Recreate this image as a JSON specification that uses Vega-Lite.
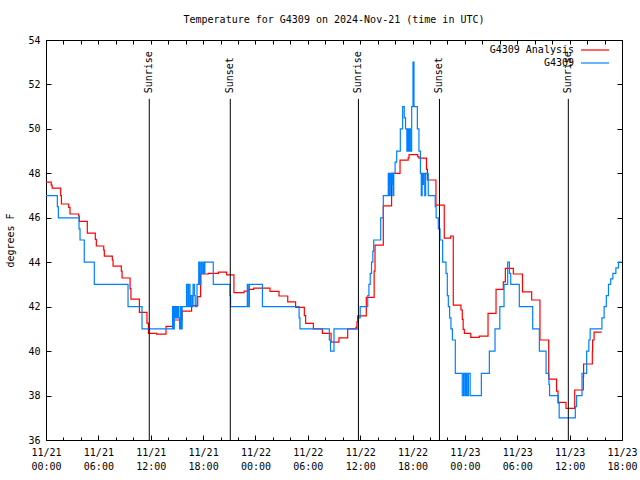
{
  "$schema": "https://vega.github.io/schema/vega-lite/v6.json",
  "autosize": "none",
  "width": 576,
  "height": 400,
  "padding": {"left": 46, "top": 40, "right": 18, "bottom": 40},
  "background": "white",
  "title": {"text": "Temperature for G4309 on 2024-Nov-21 (time in UTC)", "font": "DejaVu Sans Mono", "fontSize": 10, "fontWeight": "normal", "anchor": "middle", "offset": 10, "color": "black"},
  "datasets": {
    "temps": [
      {"series": "G4309 Analysis", "time": "2024-11-21T00:00Z", "temp": 47.6},
      {"series": "G4309 Analysis", "time": "2024-11-21T00:36Z", "temp": 47.47},
      {"series": "G4309 Analysis", "time": "2024-11-21T00:42Z", "temp": 47.33},
      {"series": "G4309 Analysis", "time": "2024-11-21T01:41Z", "temp": 47.0},
      {"series": "G4309 Analysis", "time": "2024-11-21T01:46Z", "temp": 46.62},
      {"series": "G4309 Analysis", "time": "2024-11-21T02:36Z", "temp": 46.47},
      {"series": "G4309 Analysis", "time": "2024-11-21T02:45Z", "temp": 46.17},
      {"series": "G4309 Analysis", "time": "2024-11-21T03:44Z", "temp": 46.08},
      {"series": "G4309 Analysis", "time": "2024-11-21T03:49Z", "temp": 45.84},
      {"series": "G4309 Analysis", "time": "2024-11-21T04:44Z", "temp": 45.31},
      {"series": "G4309 Analysis", "time": "2024-11-21T05:39Z", "temp": 45.03},
      {"series": "G4309 Analysis", "time": "2024-11-21T05:46Z", "temp": 44.73},
      {"series": "G4309 Analysis", "time": "2024-11-21T06:37Z", "temp": 44.54},
      {"series": "G4309 Analysis", "time": "2024-11-21T06:41Z", "temp": 44.27},
      {"series": "G4309 Analysis", "time": "2024-11-21T07:36Z", "temp": 44.1},
      {"series": "G4309 Analysis", "time": "2024-11-21T07:41Z", "temp": 43.82},
      {"series": "G4309 Analysis", "time": "2024-11-21T08:38Z", "temp": 43.6},
      {"series": "G4309 Analysis", "time": "2024-11-21T08:43Z", "temp": 43.29},
      {"series": "G4309 Analysis", "time": "2024-11-21T09:38Z", "temp": 42.81},
      {"series": "G4309 Analysis", "time": "2024-11-21T09:44Z", "temp": 42.34},
      {"series": "G4309 Analysis", "time": "2024-11-21T10:42Z", "temp": 41.74},
      {"series": "G4309 Analysis", "time": "2024-11-21T11:34Z", "temp": 41.26},
      {"series": "G4309 Analysis", "time": "2024-11-21T11:44Z", "temp": 40.8},
      {"series": "G4309 Analysis", "time": "2024-11-21T12:41Z", "temp": 40.76},
      {"series": "G4309 Analysis", "time": "2024-11-21T13:45Z", "temp": 41.11},
      {"series": "G4309 Analysis", "time": "2024-11-21T14:36Z", "temp": 41.4},
      {"series": "G4309 Analysis", "time": "2024-11-21T15:36Z", "temp": 41.8},
      {"series": "G4309 Analysis", "time": "2024-11-21T16:41Z", "temp": 42.05},
      {"series": "G4309 Analysis", "time": "2024-11-21T17:23Z", "temp": 42.45},
      {"series": "G4309 Analysis", "time": "2024-11-21T17:43Z", "temp": 43.47},
      {"series": "G4309 Analysis", "time": "2024-11-21T18:36Z", "temp": 43.5},
      {"series": "G4309 Analysis", "time": "2024-11-21T19:45Z", "temp": 43.55},
      {"series": "G4309 Analysis", "time": "2024-11-21T20:42Z", "temp": 43.43},
      {"series": "G4309 Analysis", "time": "2024-11-21T21:32Z", "temp": 42.63},
      {"series": "G4309 Analysis", "time": "2024-11-21T22:42Z", "temp": 42.7},
      {"series": "G4309 Analysis", "time": "2024-11-21T23:12Z", "temp": 42.78},
      {"series": "G4309 Analysis", "time": "2024-11-21T23:48Z", "temp": 42.83},
      {"series": "G4309 Analysis", "time": "2024-11-22T01:40Z", "temp": 42.69},
      {"series": "G4309 Analysis", "time": "2024-11-22T02:42Z", "temp": 42.48},
      {"series": "G4309 Analysis", "time": "2024-11-22T03:42Z", "temp": 42.22},
      {"series": "G4309 Analysis", "time": "2024-11-22T04:36Z", "temp": 41.97},
      {"series": "G4309 Analysis", "time": "2024-11-22T05:36Z", "temp": 41.6},
      {"series": "G4309 Analysis", "time": "2024-11-22T05:45Z", "temp": 41.25},
      {"series": "G4309 Analysis", "time": "2024-11-22T06:38Z", "temp": 41.0},
      {"series": "G4309 Analysis", "time": "2024-11-22T07:40Z", "temp": 40.8},
      {"series": "G4309 Analysis", "time": "2024-11-22T08:40Z", "temp": 40.4},
      {"series": "G4309 Analysis", "time": "2024-11-22T09:34Z", "temp": 40.6},
      {"series": "G4309 Analysis", "time": "2024-11-22T10:34Z", "temp": 41.0},
      {"series": "G4309 Analysis", "time": "2024-11-22T11:31Z", "temp": 41.07},
      {"series": "G4309 Analysis", "time": "2024-11-22T11:38Z", "temp": 41.32},
      {"series": "G4309 Analysis", "time": "2024-11-22T11:43Z", "temp": 41.59},
      {"series": "G4309 Analysis", "time": "2024-11-22T12:42Z", "temp": 42.42},
      {"series": "G4309 Analysis", "time": "2024-11-22T13:36Z", "temp": 43.6},
      {"series": "G4309 Analysis", "time": "2024-11-22T13:42Z", "temp": 44.77},
      {"series": "G4309 Analysis", "time": "2024-11-22T14:39Z", "temp": 46.54},
      {"series": "G4309 Analysis", "time": "2024-11-22T15:36Z", "temp": 48.0},
      {"series": "G4309 Analysis", "time": "2024-11-22T16:34Z", "temp": 48.59},
      {"series": "G4309 Analysis", "time": "2024-11-22T17:30Z", "temp": 48.7},
      {"series": "G4309 Analysis", "time": "2024-11-22T17:36Z", "temp": 48.84},
      {"series": "G4309 Analysis", "time": "2024-11-22T18:36Z", "temp": 48.75},
      {"series": "G4309 Analysis", "time": "2024-11-22T18:44Z", "temp": 48.68},
      {"series": "G4309 Analysis", "time": "2024-11-22T19:36Z", "temp": 48.18},
      {"series": "G4309 Analysis", "time": "2024-11-22T19:42Z", "temp": 47.7},
      {"series": "G4309 Analysis", "time": "2024-11-22T20:41Z", "temp": 46.57},
      {"series": "G4309 Analysis", "time": "2024-11-22T21:38Z", "temp": 45.08},
      {"series": "G4309 Analysis", "time": "2024-11-22T22:22Z", "temp": 45.18},
      {"series": "G4309 Analysis", "time": "2024-11-22T22:40Z", "temp": 42.07},
      {"series": "G4309 Analysis", "time": "2024-11-22T23:33Z", "temp": 41.85},
      {"series": "G4309 Analysis", "time": "2024-11-22T23:42Z", "temp": 41.43},
      {"series": "G4309 Analysis", "time": "2024-11-22T23:48Z", "temp": 40.98},
      {"series": "G4309 Analysis", "time": "2024-11-22T23:56Z", "temp": 40.8},
      {"series": "G4309 Analysis", "time": "2024-11-23T00:40Z", "temp": 40.62},
      {"series": "G4309 Analysis", "time": "2024-11-23T01:39Z", "temp": 40.67},
      {"series": "G4309 Analysis", "time": "2024-11-23T02:39Z", "temp": 41.7},
      {"series": "G4309 Analysis", "time": "2024-11-23T03:34Z", "temp": 42.78},
      {"series": "G4309 Analysis", "time": "2024-11-23T04:24Z", "temp": 43.12},
      {"series": "G4309 Analysis", "time": "2024-11-23T04:38Z", "temp": 43.72},
      {"series": "G4309 Analysis", "time": "2024-11-23T05:33Z", "temp": 43.47},
      {"series": "G4309 Analysis", "time": "2024-11-23T06:36Z", "temp": 42.67},
      {"series": "G4309 Analysis", "time": "2024-11-23T07:39Z", "temp": 42.3},
      {"series": "G4309 Analysis", "time": "2024-11-23T08:36Z", "temp": 40.5},
      {"series": "G4309 Analysis", "time": "2024-11-23T09:36Z", "temp": 38.74},
      {"series": "G4309 Analysis", "time": "2024-11-23T10:30Z", "temp": 38.2},
      {"series": "G4309 Analysis", "time": "2024-11-23T10:40Z", "temp": 37.69},
      {"series": "G4309 Analysis", "time": "2024-11-23T11:35Z", "temp": 37.42},
      {"series": "G4309 Analysis", "time": "2024-11-23T12:35Z", "temp": 38.25},
      {"series": "G4309 Analysis", "time": "2024-11-23T13:34Z", "temp": 38.85},
      {"series": "G4309 Analysis", "time": "2024-11-23T13:36Z", "temp": 39.42},
      {"series": "G4309 Analysis", "time": "2024-11-23T14:36Z", "temp": 39.97},
      {"series": "G4309 Analysis", "time": "2024-11-23T14:38Z", "temp": 40.5},
      {"series": "G4309 Analysis", "time": "2024-11-23T14:48Z", "temp": 40.85},
      {"series": "G4309 Analysis", "time": "2024-11-23T15:40Z", "temp": 40.85},
      {"series": "G4309", "time": "2024-11-21T00:00Z", "temp": 47},
      {"series": "G4309", "time": "2024-11-21T01:18Z", "temp": 46.5},
      {"series": "G4309", "time": "2024-11-21T01:25Z", "temp": 46},
      {"series": "G4309", "time": "2024-11-21T03:47Z", "temp": 45.5},
      {"series": "G4309", "time": "2024-11-21T03:54Z", "temp": 45},
      {"series": "G4309", "time": "2024-11-21T04:23Z", "temp": 44},
      {"series": "G4309", "time": "2024-11-21T05:32Z", "temp": 43},
      {"series": "G4309", "time": "2024-11-21T09:24Z", "temp": 42},
      {"series": "G4309", "time": "2024-11-21T11:00Z", "temp": 41},
      {"series": "G4309", "time": "2024-11-21T14:30Z", "temp": 42},
      {"series": "G4309", "time": "2024-11-21T14:36Z", "temp": 41},
      {"series": "G4309", "time": "2024-11-21T14:42Z", "temp": 42},
      {"series": "G4309", "time": "2024-11-21T14:48Z", "temp": 41.5},
      {"series": "G4309", "time": "2024-11-21T14:54Z", "temp": 42},
      {"series": "G4309", "time": "2024-11-21T15:00Z", "temp": 41.5},
      {"series": "G4309", "time": "2024-11-21T15:06Z", "temp": 42},
      {"series": "G4309", "time": "2024-11-21T15:12Z", "temp": 41.5},
      {"series": "G4309", "time": "2024-11-21T15:18Z", "temp": 41},
      {"series": "G4309", "time": "2024-11-21T15:24Z", "temp": 42},
      {"series": "G4309", "time": "2024-11-21T15:30Z", "temp": 41},
      {"series": "G4309", "time": "2024-11-21T15:36Z", "temp": 42},
      {"series": "G4309", "time": "2024-11-21T16:06Z", "temp": 43},
      {"series": "G4309", "time": "2024-11-21T16:15Z", "temp": 42},
      {"series": "G4309", "time": "2024-11-21T16:21Z", "temp": 43},
      {"series": "G4309", "time": "2024-11-21T16:30Z", "temp": 42},
      {"series": "G4309", "time": "2024-11-21T16:36Z", "temp": 42.5},
      {"series": "G4309", "time": "2024-11-21T16:45Z", "temp": 42},
      {"series": "G4309", "time": "2024-11-21T16:51Z", "temp": 43},
      {"series": "G4309", "time": "2024-11-21T17:00Z", "temp": 42.5},
      {"series": "G4309", "time": "2024-11-21T17:06Z", "temp": 42},
      {"series": "G4309", "time": "2024-11-21T17:18Z", "temp": 43},
      {"series": "G4309", "time": "2024-11-21T17:30Z", "temp": 44},
      {"series": "G4309", "time": "2024-11-21T17:36Z", "temp": 43},
      {"series": "G4309", "time": "2024-11-21T17:45Z", "temp": 44},
      {"series": "G4309", "time": "2024-11-21T17:51Z", "temp": 43.5},
      {"series": "G4309", "time": "2024-11-21T18:00Z", "temp": 44},
      {"series": "G4309", "time": "2024-11-21T18:06Z", "temp": 43.5},
      {"series": "G4309", "time": "2024-11-21T18:12Z", "temp": 44},
      {"series": "G4309", "time": "2024-11-21T19:10Z", "temp": 43},
      {"series": "G4309", "time": "2024-11-21T21:05Z", "temp": 42.5},
      {"series": "G4309", "time": "2024-11-21T21:09Z", "temp": 42},
      {"series": "G4309", "time": "2024-11-21T23:04Z", "temp": 43},
      {"series": "G4309", "time": "2024-11-21T23:09Z", "temp": 42},
      {"series": "G4309", "time": "2024-11-21T23:18Z", "temp": 43},
      {"series": "G4309", "time": "2024-11-22T00:48Z", "temp": 42},
      {"series": "G4309", "time": "2024-11-22T05:00Z", "temp": 41.5},
      {"series": "G4309", "time": "2024-11-22T05:06Z", "temp": 41},
      {"series": "G4309", "time": "2024-11-22T08:28Z", "temp": 40.5},
      {"series": "G4309", "time": "2024-11-22T08:36Z", "temp": 40},
      {"series": "G4309", "time": "2024-11-22T09:00Z", "temp": 41},
      {"series": "G4309", "time": "2024-11-22T11:48Z", "temp": 41.5},
      {"series": "G4309", "time": "2024-11-22T12:00Z", "temp": 42},
      {"series": "G4309", "time": "2024-11-22T12:52Z", "temp": 42.5},
      {"series": "G4309", "time": "2024-11-22T13:00Z", "temp": 43},
      {"series": "G4309", "time": "2024-11-22T13:09Z", "temp": 43.5},
      {"series": "G4309", "time": "2024-11-22T13:18Z", "temp": 44},
      {"series": "G4309", "time": "2024-11-22T13:27Z", "temp": 44.5},
      {"series": "G4309", "time": "2024-11-22T13:33Z", "temp": 45},
      {"series": "G4309", "time": "2024-11-22T14:21Z", "temp": 46},
      {"series": "G4309", "time": "2024-11-22T14:39Z", "temp": 47},
      {"series": "G4309", "time": "2024-11-22T15:13Z", "temp": 48},
      {"series": "G4309", "time": "2024-11-22T15:21Z", "temp": 47},
      {"series": "G4309", "time": "2024-11-22T15:27Z", "temp": 48},
      {"series": "G4309", "time": "2024-11-22T15:33Z", "temp": 47.5},
      {"series": "G4309", "time": "2024-11-22T15:39Z", "temp": 48},
      {"series": "G4309", "time": "2024-11-22T15:45Z", "temp": 47},
      {"series": "G4309", "time": "2024-11-22T15:51Z", "temp": 48},
      {"series": "G4309", "time": "2024-11-22T16:00Z", "temp": 48.5},
      {"series": "G4309", "time": "2024-11-22T16:11Z", "temp": 49},
      {"series": "G4309", "time": "2024-11-22T16:36Z", "temp": 50},
      {"series": "G4309", "time": "2024-11-22T16:52Z", "temp": 51},
      {"series": "G4309", "time": "2024-11-22T17:03Z", "temp": 50.5},
      {"series": "G4309", "time": "2024-11-22T17:12Z", "temp": 50},
      {"series": "G4309", "time": "2024-11-22T17:21Z", "temp": 49},
      {"series": "G4309", "time": "2024-11-22T17:27Z", "temp": 50},
      {"series": "G4309", "time": "2024-11-22T17:33Z", "temp": 49},
      {"series": "G4309", "time": "2024-11-22T17:39Z", "temp": 50},
      {"series": "G4309", "time": "2024-11-22T17:45Z", "temp": 49},
      {"series": "G4309", "time": "2024-11-22T17:54Z", "temp": 51},
      {"series": "G4309", "time": "2024-11-22T18:03Z", "temp": 53},
      {"series": "G4309", "time": "2024-11-22T18:10Z", "temp": 51},
      {"series": "G4309", "time": "2024-11-22T18:33Z", "temp": 50},
      {"series": "G4309", "time": "2024-11-22T18:44Z", "temp": 49},
      {"series": "G4309", "time": "2024-11-22T18:54Z", "temp": 48},
      {"series": "G4309", "time": "2024-11-22T19:00Z", "temp": 47},
      {"series": "G4309", "time": "2024-11-22T19:06Z", "temp": 48},
      {"series": "G4309", "time": "2024-11-22T19:10Z", "temp": 47.5},
      {"series": "G4309", "time": "2024-11-22T19:15Z", "temp": 48},
      {"series": "G4309", "time": "2024-11-22T19:24Z", "temp": 47},
      {"series": "G4309", "time": "2024-11-22T19:30Z", "temp": 48},
      {"series": "G4309", "time": "2024-11-22T19:48Z", "temp": 47},
      {"series": "G4309", "time": "2024-11-22T20:36Z", "temp": 46.5},
      {"series": "G4309", "time": "2024-11-22T20:42Z", "temp": 46},
      {"series": "G4309", "time": "2024-11-22T20:57Z", "temp": 45.5},
      {"series": "G4309", "time": "2024-11-22T21:09Z", "temp": 45},
      {"series": "G4309", "time": "2024-11-22T21:27Z", "temp": 44},
      {"series": "G4309", "time": "2024-11-22T21:50Z", "temp": 43.5},
      {"series": "G4309", "time": "2024-11-22T21:59Z", "temp": 42.5},
      {"series": "G4309", "time": "2024-11-22T22:06Z", "temp": 42},
      {"series": "G4309", "time": "2024-11-22T22:15Z", "temp": 41.5},
      {"series": "G4309", "time": "2024-11-22T22:24Z", "temp": 41},
      {"series": "G4309", "time": "2024-11-22T22:34Z", "temp": 40.5},
      {"series": "G4309", "time": "2024-11-22T22:54Z", "temp": 39},
      {"series": "G4309", "time": "2024-11-22T23:42Z", "temp": 38},
      {"series": "G4309", "time": "2024-11-22T23:51Z", "temp": 39},
      {"series": "G4309", "time": "2024-11-23T00:00Z", "temp": 38},
      {"series": "G4309", "time": "2024-11-23T00:07Z", "temp": 39},
      {"series": "G4309", "time": "2024-11-23T00:15Z", "temp": 38},
      {"series": "G4309", "time": "2024-11-23T00:24Z", "temp": 39},
      {"series": "G4309", "time": "2024-11-23T00:36Z", "temp": 38},
      {"series": "G4309", "time": "2024-11-23T01:53Z", "temp": 39},
      {"series": "G4309", "time": "2024-11-23T02:48Z", "temp": 40},
      {"series": "G4309", "time": "2024-11-23T03:27Z", "temp": 41},
      {"series": "G4309", "time": "2024-11-23T04:00Z", "temp": 42},
      {"series": "G4309", "time": "2024-11-23T04:29Z", "temp": 43},
      {"series": "G4309", "time": "2024-11-23T04:54Z", "temp": 44},
      {"series": "G4309", "time": "2024-11-23T05:06Z", "temp": 43.5},
      {"series": "G4309", "time": "2024-11-23T05:15Z", "temp": 43},
      {"series": "G4309", "time": "2024-11-23T06:14Z", "temp": 42},
      {"series": "G4309", "time": "2024-11-23T07:46Z", "temp": 41},
      {"series": "G4309", "time": "2024-11-23T08:32Z", "temp": 40},
      {"series": "G4309", "time": "2024-11-23T09:18Z", "temp": 39},
      {"series": "G4309", "time": "2024-11-23T09:38Z", "temp": 38.5},
      {"series": "G4309", "time": "2024-11-23T09:42Z", "temp": 38},
      {"series": "G4309", "time": "2024-11-23T10:42Z", "temp": 37.65},
      {"series": "G4309", "time": "2024-11-23T10:48Z", "temp": 37},
      {"series": "G4309", "time": "2024-11-23T12:39Z", "temp": 37.5},
      {"series": "G4309", "time": "2024-11-23T12:48Z", "temp": 38},
      {"series": "G4309", "time": "2024-11-23T13:25Z", "temp": 39},
      {"series": "G4309", "time": "2024-11-23T13:57Z", "temp": 40},
      {"series": "G4309", "time": "2024-11-23T14:12Z", "temp": 40.5},
      {"series": "G4309", "time": "2024-11-23T14:21Z", "temp": 41},
      {"series": "G4309", "time": "2024-11-23T15:42Z", "temp": 41.5},
      {"series": "G4309", "time": "2024-11-23T15:57Z", "temp": 42},
      {"series": "G4309", "time": "2024-11-23T16:12Z", "temp": 42.5},
      {"series": "G4309", "time": "2024-11-23T16:27Z", "temp": 43},
      {"series": "G4309", "time": "2024-11-23T16:42Z", "temp": 43.25},
      {"series": "G4309", "time": "2024-11-23T16:57Z", "temp": 43.5},
      {"series": "G4309", "time": "2024-11-23T17:18Z", "temp": 43.75},
      {"series": "G4309", "time": "2024-11-23T17:36Z", "temp": 44},
      {"series": "G4309", "time": "2024-11-23T17:57Z", "temp": 44}
    ],
    "sun": [
      {"time": "2024-11-21T11:50Z", "event": "Sunrise"},
      {"time": "2024-11-21T21:07Z", "event": "Sunset"},
      {"time": "2024-11-22T11:48Z", "event": "Sunrise"},
      {"time": "2024-11-22T21:05Z", "event": "Sunset"},
      {"time": "2024-11-23T11:51Z", "event": "Sunrise"}
    ]
  },
  "layer": [
    {
      "data": {"name": "temps"},
      "mark": {"type": "line", "interpolate": "step-after", "strokeWidth": 1.2, "clip": true},
      "encoding": {
        "x": {"field": "time", "type": "temporal",
          "scale": {"type": "utc", "domain": [1732147200000, 1732384800000], "nice": false},
          "axis": {"orient": "bottom", "values": [1732147200000, 1732168800000, 1732190400000, 1732212000000, 1732233600000, 1732255200000, 1732276800000, 1732298400000, 1732320000000, 1732341600000, 1732363200000, 1732384800000], "tickSize": 5, "offset": -5, "domain": false, "labelPadding": 7, "labelBaseline": "top", "labelLineHeight": 14, "labelFlush": false, "labelOverlap": false, "labelBound": false, "title": null,
            "labelExpr": "[utcFormat(datum.value, '%m/%d'), utcFormat(datum.value, '%H:%M')]"}},
        "y": {"field": "temp", "type": "quantitative",
          "scale": {"domain": [36, 54], "nice": false, "zero": false},
          "axis": {"orient": "left", "values": [36, 38, 40, 42, 44, 46, 48, 50, 52, 54], "tickSize": 5, "offset": -5, "domain": false, "labelPadding": 6, "labelFlush": false, "title": "degrees F", "titlePadding": 12}},
        "color": {"field": "series", "type": "nominal",
          "scale": {"domain": ["G4309 Analysis", "G4309"], "range": ["#ff0000", "#0080ff"]},
          "legend": {"orient": "none", "legendX": 544, "legendY": 5, "title": null, "symbolType": "M-7,0H7", "symbolSize": 16, "symbolStrokeWidth": 1.2, "labelAlign": "right", "labelOffset": -26, "labelFont": "DejaVu Sans Mono", "labelFontSize": 10, "labelColor": "black", "rowPadding": 3, "padding": 0}}
      }
    },
    {
      "data": {"name": "sun"},
      "mark": {"type": "rule", "color": "black", "strokeWidth": 1},
      "encoding": {
        "x": {"field": "time", "type": "temporal",
          "axis": {"orient": "bottom", "values": [1732147200000, 1732154400000, 1732161600000, 1732168800000, 1732176000000, 1732183200000, 1732190400000, 1732197600000, 1732204800000, 1732212000000, 1732219200000, 1732226400000, 1732233600000, 1732240800000, 1732248000000, 1732255200000, 1732262400000, 1732269600000, 1732276800000, 1732284000000, 1732291200000, 1732298400000, 1732305600000, 1732312800000, 1732320000000, 1732327200000, 1732334400000, 1732341600000, 1732348800000, 1732356000000, 1732363200000, 1732370400000, 1732377600000, 1732384800000], "tickSize": 3, "offset": -3, "domain": false, "labels": false, "title": null}},
        "y": {"datum": 36, "type": "quantitative",
          "axis": {"orient": "right", "values": [36, 38, 40, 42, 44, 46, 48, 50, 52, 54], "tickSize": 5, "offset": -5, "domain": false, "labels": false, "title": null}},
        "y2": {"datum": 51.35}
      }
    },
    {
      "data": {"name": "sun"},
      "mark": {"type": "text", "angle": 270, "align": "left", "baseline": "middle", "font": "DejaVu Sans Mono", "fontSize": 10, "color": "black"},
      "encoding": {
        "x": {"field": "time", "type": "temporal",
          "axis": {"orient": "top", "values": [1732147200000, 1732154400000, 1732161600000, 1732168800000, 1732176000000, 1732183200000, 1732190400000, 1732197600000, 1732204800000, 1732212000000, 1732219200000, 1732226400000, 1732233600000, 1732240800000, 1732248000000, 1732255200000, 1732262400000, 1732269600000, 1732276800000, 1732284000000, 1732291200000, 1732298400000, 1732305600000, 1732312800000, 1732320000000, 1732327200000, 1732334400000, 1732341600000, 1732348800000, 1732356000000, 1732363200000, 1732370400000, 1732377600000, 1732384800000], "tickSize": 4, "offset": -4, "domain": false, "labels": false, "title": null}},
        "y": {"datum": 51.6, "type": "quantitative", "axis": null},
        "text": {"field": "event"}
      }
    }
  ],
  "resolve": {"axis": {"x": "independent", "y": "independent"}},
  "config": {
    "view": {"stroke": "black", "strokeWidth": 1},
    "font": "DejaVu Sans Mono",
    "axis": {"grid": false, "domainColor": "black", "tickColor": "black", "labelColor": "black", "titleColor": "black", "labelFont": "DejaVu Sans Mono", "labelFontSize": 10, "titleFont": "DejaVu Sans Mono", "titleFontSize": 10, "titleFontWeight": "normal"}
  }
}
